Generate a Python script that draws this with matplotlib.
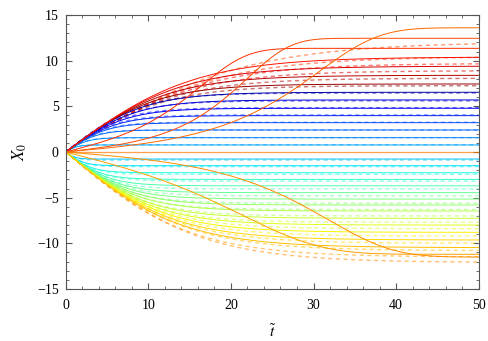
import numpy as np
import matplotlib
matplotlib.use('Agg')
import matplotlib.pyplot as plt
from matplotlib.ticker import MultipleLocator

plt.rcParams['font.family'] = ['Liberation Serif', 'DejaVu Serif']
plt.rcParams['mathtext.fontset'] = 'stix'

# fan curves (solid): jet position, final value, rise time
fan_color = [0.04, 0.08, 0.12, 0.16, 0.20, 0.23, 0.26, 0.29,
             0.32, 0.35, 0.38, 0.41, 0.44, 0.47, 0.50, 0.53, 0.56, 0.59, 0.62, 0.65, 0.68, 0.71,
             0.98, 0.95, 0.92, 0.89]
fan_end = [6.54, 5.70, 4.79, 3.98, 3.21, 2.41, 1.57, 0.77,
           -0.77, -1.50, -2.27, -3.00, -3.70, -4.45, -5.15, -5.80, -6.46, -7.26, -8.00, -8.80, -9.64, -10.48,
           7.45, 8.40, 9.40, 10.40]
fan_tau = [9.5, 8.5, 7.3, 6.2, 5.0, 3.8, 2.6, 1.4,
           1.2, 2.2, 3.2, 4.2, 5.2, 6.2, 7.2, 8.1, 9.0, 10.0, 11.0, 12.0, 13.0, 14.0,
           11.0, 12.5, 14.0, 15.5]

# dashed companions
dash_color = [0.04, 0.08, 0.12, 0.16, 0.20, 0.23, 0.26, 0.29,
              0.32, 0.35, 0.38, 0.41, 0.44, 0.47, 0.50, 0.53, 0.56, 0.59, 0.62, 0.65, 0.68, 0.71,
              0.74, 0.76, 0.98, 0.95, 0.92, 0.89, 0.86, 0.83]
dash_end = [6.46, 5.60, 4.85, 4.05, 3.25, 2.41, 1.57, 0.80,
            -0.88, -1.60, -2.44, -3.18, -4.05, -4.79, -5.60, -6.30, -7.00, -7.70, -8.40, -9.20, -10.00, -10.80,
            -11.50, -12.10, 7.26, 8.07, 8.90, 9.70, 10.44, 12.05]
dash_tau = [9.0, 8.0, 7.0, 6.0, 4.8, 3.6, 2.5, 1.4,
            1.4, 2.4, 3.5, 4.5, 5.6, 6.6, 7.6, 8.6, 9.5, 10.5, 11.5, 12.5, 13.5, 14.5,
            15.0, 16.0, 12.0, 13.5, 15.0, 16.5, 18.0, 21.0]

# delayed (escaping) solid curves: jet position, final value, seed, growth time
slow_color = [0.86, 0.83, 0.80, 0.74, 0.76]
slow_end = [11.35, 12.45, 13.6, -11.2, -11.5]
slow_seed = [0.146, 0.058, 0.057, 0.25, 0.064]
slow_scale = [7.0, 6.7, 9.3, 12.0, 10.0]

# curve at the unstable point
flat_color = 0.78

t = np.linspace(0, 50, 400)
cmap = plt.get_cmap('jet')

fig = plt.figure(figsize=(4.88, 3.41), dpi=100)
ax = fig.add_axes([0.1346, 0.1525, 0.8464, 0.8035])

for c, xe, tau in zip(dash_color, dash_end, dash_tau):
    ax.plot(t, xe * np.tanh(t / tau), color=cmap(c), lw=1.0, ls=(0, (3, 2.5)), alpha=0.55)

for c, xe, tau in zip(fan_color, fan_end, fan_tau):
    ax.plot(t, xe * np.tanh(t / tau), color=cmap(c), lw=0.7)

for c, xe, eps, s in zip(slow_color, slow_end, slow_seed, slow_scale):
    ax.plot(t, xe * np.tanh(eps * np.sinh(t / s)), color=cmap(c), lw=0.7)

ax.plot(t, np.zeros_like(t), color=cmap(flat_color), lw=0.9, alpha=0.7)

ax.set_xlim(0, 50)
ax.set_ylim(-15, 15)
ax.xaxis.set_major_locator(MultipleLocator(10))
ax.xaxis.set_minor_locator(MultipleLocator(2))
ax.yaxis.set_major_locator(MultipleLocator(5))
ax.yaxis.set_minor_locator(MultipleLocator(1))
ax.tick_params(which='both', direction='in', top=True, right=True, colors='#555555',
               labelcolor='black', labelsize=10)
ax.tick_params(which='major', length=4)
ax.tick_params(which='minor', length=2)
ax.tick_params(axis='x', pad=7.5)
ax.tick_params(axis='y', pad=5)
for sp in ax.spines.values():
    sp.set_color('#555555')

ax.set_xlabel(r'$\tilde{t}$', fontsize=11, labelpad=8)
ax.set_ylabel(r'$X_0$', fontsize=12, labelpad=6)

fig.savefig('out.png', dpi=100)
